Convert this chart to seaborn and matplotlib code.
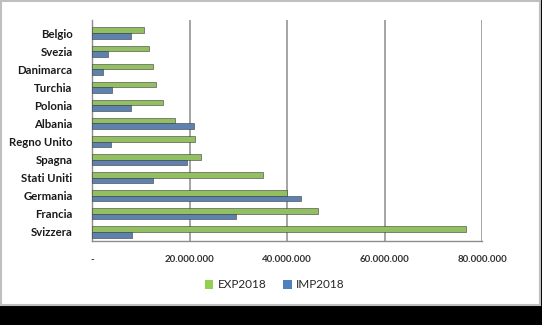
import matplotlib
matplotlib.use("Agg")
import matplotlib.pyplot as plt
import matplotlib.patches as mpatches
import seaborn as sns
import pandas as pd

categories = ["Belgio", "Svezia", "Danimarca", "Turchia", "Polonia", "Albania",
              "Regno Unito", "Spagna", "Stati Uniti", "Germania", "Francia", "Svizzera"]
exp2018 = [10.6e6, 11.6e6, 12.6e6, 13.2e6, 14.5e6, 17.0e6,
           21.1e6, 22.4e6, 35.1e6, 40.0e6, 46.4e6, 76.7e6]
imp2018 = [8.1e6, 3.3e6, 2.3e6, 4.2e6, 8.1e6, 20.9e6,
           3.9e6, 19.5e6, 12.5e6, 42.9e6, 29.5e6, 8.2e6]
series_names = ["EXP2018", "IMP2018"]
xticks = [0, 20e6, 40e6, 60e6, 80e6]
xticklabels = ["-", "20.000.000", "40.000.000", "60.000.000", "80.000.000"]
colors = ["#92D050", "#4F81BD"]

df = pd.DataFrame({
    "Paese": categories * 2,
    "Valore": exp2018 + imp2018,
    "Serie": [series_names[0]] * len(categories) + [series_names[1]] * len(categories),
})

sns.set_style("white")
plt.rcParams["font.family"] = ["Lato", "DejaVu Sans"]

W, H = 542, 325
fig = plt.figure(figsize=(W / 100, H / 100), dpi=100, facecolor="black")

# white panel
panel = mpatches.Rectangle((1 / W, 1 - 305 / H), 539 / W, 304 / H, transform=fig.transFigure,
                           facecolor="white", edgecolor="#BFBFBF", linewidth=1.5, zorder=-5)
fig.patches.append(panel)

ax = fig.add_axes([92 / W, 1 - 241 / H, 390 / W, (241 - 20) / H])
ax.set_facecolor("none")

sns.barplot(data=df, y="Paese", x="Valore", hue="Serie", order=categories,
            hue_order=series_names, palette=colors, orient="h", width=0.62,
            edgecolor="#3a3a3a", linewidth=0.4, ax=ax, legend=False, zorder=3)

ax.set_xlim(0, 80e6)
ax.set_ylim(len(categories) - 0.5, -0.72)
ax.set_xticks(xticks)
ax.set_xticklabels(xticklabels, fontsize=7, fontweight="bold", color="#333333")
ax.set_yticks(range(len(categories)))
ax.set_yticklabels(categories, fontsize=8.2, fontweight="bold", color="#1a1a1a")
ax.set_xlabel("")
ax.set_ylabel("")

for x in xticks[1:]:
    ax.axvline(x, color="#8C8C8C", linewidth=1.1, zorder=1)

for s in ["top", "right"]:
    ax.spines[s].set_visible(False)
for s in ["left", "bottom"]:
    ax.spines[s].set_color("#8C8C8C")
    ax.spines[s].set_linewidth(1.0)

ax.tick_params(axis="y", length=0, pad=14)
ax.tick_params(axis="x", length=4, color="#8C8C8C", direction="out", pad=6)
# left minor ticks at category boundaries
ax.set_yticks([i - 0.5 for i in range(len(categories) + 1)], minor=True)
ax.tick_params(axis="y", which="minor", length=4, color="#8C8C8C", direction="out")

handles = [mpatches.Patch(facecolor=c, edgecolor="none") for c in colors]
fig.legend(handles, series_names, loc="center", bbox_to_anchor=(275 / W, 1 - 285 / H),
           ncol=2, frameon=False, fontsize=8.5, handlelength=0.7, handleheight=0.7,
           handletextpad=0.4, columnspacing=1.4)

fig.savefig("out.png", dpi=100, facecolor="black")
